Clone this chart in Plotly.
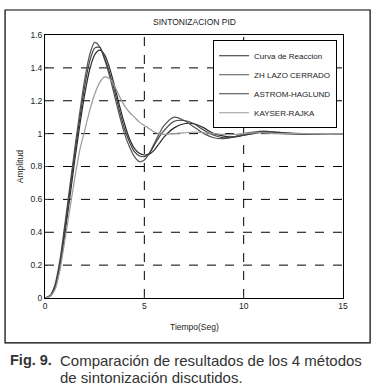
import plotly.graph_objects as go

t = [0, 0.25, 0.5, 0.75, 1.0, 1.25, 1.5, 1.75, 2.0, 2.25, 2.5, 2.75, 3.0, 3.25, 3.5, 3.75,
     4.0, 4.25, 4.5, 4.75, 5.0, 5.25, 5.5, 5.75, 6.0, 6.5, 7.0, 7.5, 8.0, 8.5, 9.0, 9.5,
     10.0, 10.5, 11.0, 11.5, 12.0, 13.0, 14.0, 15.0]

curva_reaccion = [0, 0.01, 0.06, 0.19, 0.39, 0.61, 0.84, 1.05, 1.24, 1.39, 1.48, 1.508, 1.48, 1.40, 1.29, 1.17,
                  1.06, 0.97, 0.91, 0.88, 0.87, 0.875, 0.90, 0.94, 0.98, 1.035, 1.06, 1.06, 1.035, 1.0, 0.985, 0.98,
                  0.99, 1.0, 1.01, 1.01, 1.005, 1.0, 1.0, 1.0]
zh_lazo = [0, 0.015, 0.08, 0.23, 0.45, 0.68, 0.91, 1.13, 1.33, 1.48, 1.555, 1.53, 1.45, 1.35, 1.23, 1.11,
           1.0, 0.92, 0.86, 0.83, 0.84, 0.88, 0.94, 1.0, 1.05, 1.10, 1.08, 1.04, 1.0, 0.975, 0.97, 0.98,
           1.0, 1.01, 1.015, 1.01, 1.0, 0.995, 1.0, 1.0]
astrom = [0, 0.012, 0.07, 0.21, 0.42, 0.65, 0.88, 1.09, 1.29, 1.44, 1.52, 1.525, 1.46, 1.37, 1.26, 1.14,
          1.03, 0.95, 0.89, 0.865, 0.86, 0.88, 0.93, 0.98, 1.02, 1.075, 1.08, 1.06, 1.02, 0.99, 0.975, 0.98,
          0.99, 1.005, 1.01, 1.01, 1.005, 0.998, 1.0, 1.0]
kayser = [0, 0.01, 0.05, 0.17, 0.35, 0.54, 0.73, 0.90, 1.02, 1.14, 1.24, 1.31, 1.345, 1.335, 1.29, 1.225,
          1.17, 1.13, 1.10, 1.07, 1.05, 1.03, 1.01, 1.0, 0.995, 1.0, 1.005, 1.01, 1.005, 1.0, 0.995, 0.995,
          1.0, 1.005, 1.005, 1.0, 1.0, 1.0, 1.0, 1.0]

series_names = ["Curva de Reaccion", "ZH LAZO CERRADO", "ASTROM-HAGLUND", "KAYSER-RAJKA"]
series_values = [curva_reaccion, zh_lazo, astrom, kayser]
series_colors = ["#2a2a2a", "#555555", "#404040", "#9a9a9a"]

x_ticks = [0, 5, 10, 15]
y_ticks = [0, 0.2, 0.4, 0.6, 0.8, 1, 1.2, 1.4, 1.6]
y_ticklabels = ["0", "0.2", "0.4", "0.6", "0.8", "1", "1.2", "1.4", "1.6"]

FONT = "Liberation Sans, Arial, sans-serif"
CAP_FONT = dict(family="Liberation Sans, Arial, sans-serif", size=15, color="#333")
FIG_FONT = dict(family="Liberation Sans, Arial, sans-serif", size=14.5, color="#333")

fig = go.Figure()
for name, vals, col in zip(series_names, series_values, series_colors):
    fig.add_trace(go.Scatter(x=t, y=vals, mode="lines", name=name,
                             line=dict(color=col, width=1.2, shape="spline", smoothing=0.8)))

# dashed grid lines
for gx in [5, 10]:
    fig.add_shape(type="line", x0=gx, x1=gx, y0=0, y1=1.6, xref="x", yref="y",
                  line=dict(color="black", width=1, dash="dash"), layer="below")
for gy in [0.2, 0.4, 0.6, 0.8, 1.0, 1.2, 1.4]:
    fig.add_shape(type="line", x0=0, x1=15, y0=gy, y1=gy, xref="x", yref="y",
                  line=dict(color="black", width=1, dash="dash"), layer="below")

# outer frame
fig.add_shape(type="rect", xref="paper", yref="paper",
              x0=-0.134, x1=1.091, y0=-0.171, y1=1.095,
              line=dict(color="black", width=1.2))

fig.update_layout(
    width=376, height=389,
    margin=dict(l=45, r=33, t=35, b=91),
    paper_bgcolor="white", plot_bgcolor="white",
    font=dict(family=FONT, size=8.5, color="#222"),
    showlegend=True,
    legend=dict(x=0.564, y=0.98, xanchor="left", yanchor="top",
                bgcolor="white", bordercolor="black", borderwidth=1,
                font=dict(family=FONT, size=8, color="#222"),
                tracegroupgap=0, itemwidth=30),
    xaxis=dict(range=[0, 15], tickvals=x_ticks, ticks="inside", ticklen=3,
               showgrid=False, zeroline=False, showline=True, linecolor="black",
               linewidth=1, mirror=True, tickfont=dict(size=8.5)),
    yaxis=dict(range=[0, 1.6], tickvals=y_ticks, ticktext=y_ticklabels, ticks="inside",
               ticklen=3, showgrid=False, zeroline=False, showline=True, linecolor="black",
               linewidth=1, mirror=True, tickfont=dict(size=8.5)),
    annotations=[
        dict(text="SINTONIZACION PID", x=0.5, y=1.049, xref="paper", yref="paper",
             showarrow=False, font=dict(size=8.5), xanchor="center", yanchor="middle"),
        dict(text="Tiempo(Seg)", x=0.5, y=-0.110, xref="paper", yref="paper",
             showarrow=False, font=dict(size=8.5), xanchor="center", yanchor="middle"),
        dict(text="Amplitud", x=-0.085, y=0.5, xref="paper", yref="paper", textangle=-90,
             showarrow=False, font=dict(size=8.5), xanchor="center", yanchor="middle"),
        dict(text="<b>Fig. 9.</b>", x=-0.124, y=-0.236, xref="paper", yref="paper",
             showarrow=False, font=FIG_FONT, xanchor="left", yanchor="middle"),
        dict(text="Comparación de resultados de los 4 métodos", x=0.044, y=-0.236,
             xref="paper", yref="paper", showarrow=False, font=CAP_FONT,
             xanchor="left", yanchor="middle"),
        dict(text="de sintonización discutidos.", x=0.044, y=-0.304,
             xref="paper", yref="paper", showarrow=False, font=CAP_FONT,
             xanchor="left", yanchor="middle"),
    ],
)

fig.write_html("out.html", config={"displayModeBar": False},
               post_script="document.body.style.margin='0';document.body.style.padding='0';")
